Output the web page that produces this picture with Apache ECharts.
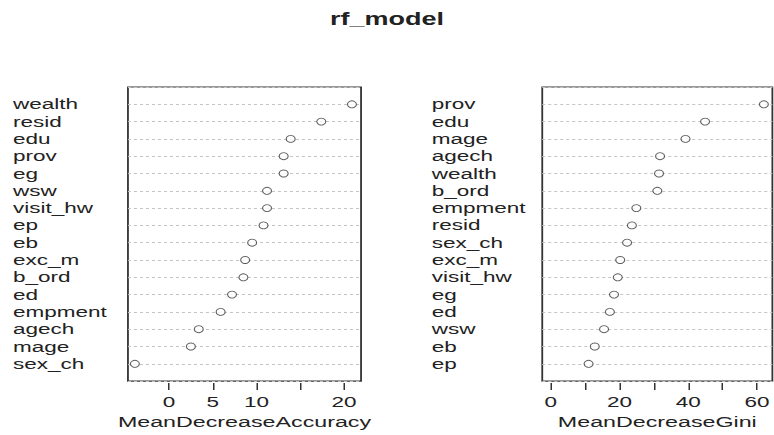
<!DOCTYPE html>
<html>
<head>
<meta charset="utf-8">
<script src="https://cdn.jsdelivr.net/npm/echarts@6/dist/echarts.min.js"></script>
<style>
  html, body { margin: 0; padding: 0; background: #fff; overflow: hidden; }
  /* the reference picture is stretched sideways, so is this one */
  #rf { width: 516px; height: 435px; transform: scaleX(1.5); transform-origin: 0 0; }
</style>
</head>
<body>
<div id="rf"></div>
<script>
var accNames = ['wealth', 'resid', 'edu', 'prov', 'eg', 'wsw', 'visit_hw', 'ep', 'eb', 'exc_m', 'b_ord', 'ed', 'empment', 'agech', 'mage', 'sex_ch'];
var accVals = [20.9, 17.4, 13.9, 13.1, 13.1, 11.2, 11.2, 10.8, 9.5, 8.7, 8.5, 7.2, 5.9, 3.4, 2.5, -3.9];

var giniNames = ['prov', 'edu', 'mage', 'agech', 'wealth', 'b_ord', 'empment', 'resid', 'sex_ch', 'exc_m', 'visit_hw', 'eg', 'ed', 'wsw', 'eb', 'ep'];
var giniVals = [62.0, 44.9, 39.2, 31.8, 31.5, 31.0, 24.9, 23.6, 22.2, 20.2, 19.5, 18.4, 17.2, 15.5, 12.8, 11.0];

var accTicks = [0, 5, 10, 15, 20];
var accTickLabels = [0, 5, 10, 20];
var giniTicks = [0, 10, 20, 30, 40, 50, 60];
var giniTickLabels = [0, 20, 40, 60];

var font = 'Liberation Sans, Arial, sans-serif';
var ink = '#222';

// blank rows at top and bottom give the R dotchart padding
function rows(names) {
    return [' '].concat(names, ['  ']);
}
function pts(names, vals) {
    return vals.map(function (v, i) { return [v, names[i]]; });
}

function yAxisFor(idx, names, margin) {
    return {
        type: 'category',
        gridIndex: idx,
        data: rows(names),
        inverse: true,
        boundaryGap: false,
        axisLine: { show: false },
        axisTick: { show: false },
        axisLabel: {
            interval: 0, align: 'left', margin: margin,
            fontFamily: font, fontSize: 15, color: ink
        },
        splitLine: {
            show: true, interval: 0,
            lineStyle: { color: '#c4c4c4', type: [2, 2], width: 1 }
        }
    };
}

function xAxisFor(idx, name, min, max, ticks, labels) {
    return {
        type: 'value',
        gridIndex: idx,
        min: min,
        max: max,
        offset: 2,
        name: name,
        nameLocation: 'middle',
        nameGap: 27,
        nameTextStyle: { fontFamily: font, fontSize: 15.5, color: ink },
        axisLine: { show: false },
        axisTick: {
            show: true, length: 7, customValues: ticks,
            lineStyle: { color: '#333', width: 1 }
        },
        axisLabel: {
            customValues: labels, margin: 11,
            fontFamily: font, fontSize: 15, color: ink
        },
        splitLine: { show: false }
    };
}

var dot = { color: '#fff', borderColor: '#333', borderWidth: 0.8 };

var option = {
    animation: false,
    backgroundColor: '#fff',
    title: {
        text: 'rf_model',
        left: 'center',
        top: 5,
        textStyle: { fontFamily: font, fontSize: 18, fontWeight: 'bold', color: ink }
    },
    grid: [
        { left: 85.3, width: 155.4, top: 87, height: 297, show: true, borderColor: '#333', borderWidth: 1.2, backgroundColor: 'transparent' },
        { left: 361.5, width: 156, top: 87, height: 297, show: true, borderColor: '#333', borderWidth: 1.2, backgroundColor: 'transparent' }
    ],
    xAxis: [
        xAxisFor(0, 'MeanDecreaseAccuracy', -4.69, 21.94, accTicks, accTickLabels),
        xAxisFor(1, 'MeanDecreaseGini', -2.48, 64.48, giniTicks, giniTickLabels)
    ],
    yAxis: [
        yAxisFor(0, accNames, 76.6),
        yAxisFor(1, giniNames, 73.7)
    ],
    series: [
        {
            type: 'scatter', xAxisIndex: 0, yAxisIndex: 0,
            symbol: 'circle', symbolSize: [6, 7],
            itemStyle: dot,
            data: pts(accNames, accVals)
        },
        {
            type: 'scatter', xAxisIndex: 1, yAxisIndex: 1,
            symbol: 'circle', symbolSize: [6, 7],
            itemStyle: dot,
            data: pts(giniNames, giniVals)
        }
    ]
};

var rfChart = echarts.init(document.getElementById('rf'), null, { renderer: 'svg' });
rfChart.setOption(option);
</script>
</body>
</html>
